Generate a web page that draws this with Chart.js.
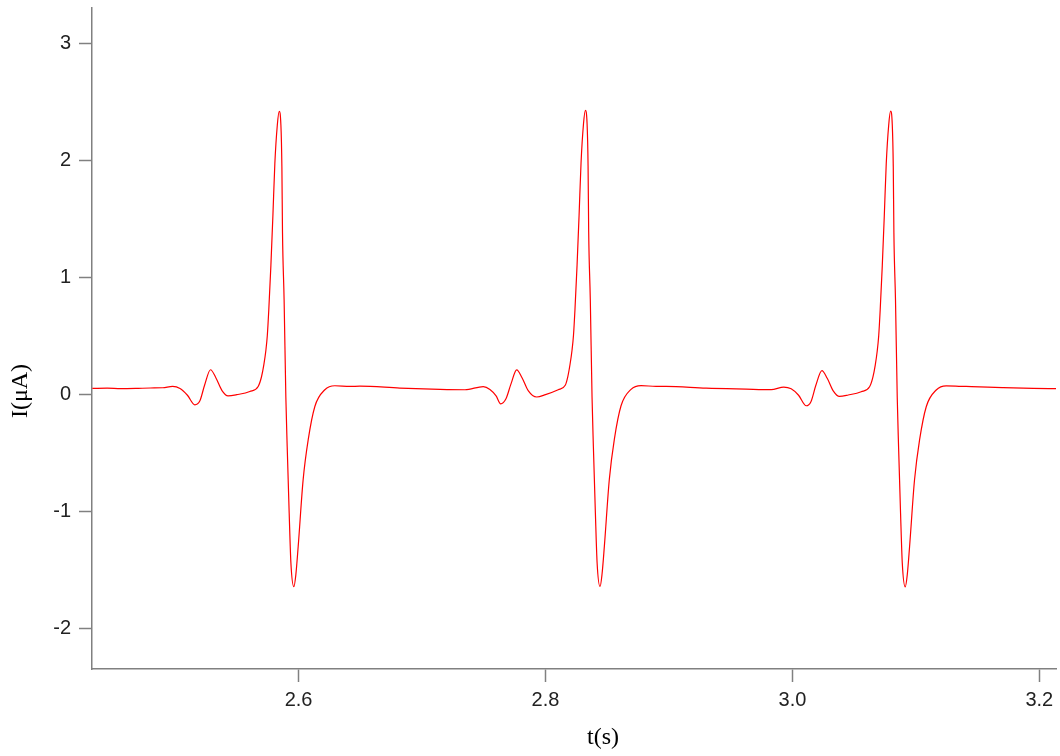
<!DOCTYPE html>
<html>
<head>
<meta charset="utf-8">
<script src="https://cdn.jsdelivr.net/npm/chart.js@4/dist/chart.umd.min.js"></script>
<style>
  body { margin: 0; background: #fff; }
  #wrap { width: 1060px; height: 756px; }
</style>
</head>
<body>
<div id="wrap"><canvas id="chart" width="1060" height="756"></canvas></div>
<script>
'use strict';

// time axis (s) and current (uA)
var tSec = [
  2.4330, 2.4450, 2.4560, 2.4680, 2.4800, 2.4900, 2.4980, 2.5040, 2.5100, 2.5160,
  2.5200, 2.5240, 2.5287, 2.5330, 2.5380, 2.5429, 2.5500, 2.5605, 2.5673, 2.5700,
  2.5719, 2.5735, 2.5747, 2.5759, 2.5776, 2.5792, 2.5808, 2.5828, 2.5843, 2.5857,
  2.5865, 2.5870, 2.5883, 2.5897, 2.5908, 2.5924, 2.5938, 2.5962, 2.5978, 2.5997,
  2.6037, 2.6078, 2.6132, 2.6213, 2.6294, 2.6416, 2.6497, 2.6821, 2.7145, 2.7348,
  2.7496, 2.7550, 2.7600, 2.7637, 2.7680, 2.7720, 2.7767, 2.7810, 2.7860, 2.7929,
  2.8000, 2.8103, 2.8160, 2.8181, 2.8199, 2.8215, 2.8227, 2.8239, 2.8256, 2.8272,
  2.8288, 2.8308, 2.8323, 2.8337, 2.8345, 2.8350, 2.8363, 2.8377, 2.8388, 2.8404,
  2.8418, 2.8442, 2.8458, 2.8477, 2.8517, 2.8558, 2.8612, 2.8693, 2.8774, 2.8896,
  2.8977, 2.9301, 2.9625, 2.9828,
  2.9930, 2.9990, 3.0050, 3.0112, 3.0150, 3.0190, 3.0239, 3.0282, 3.0332, 3.0381,
  3.0452, 3.0557, 3.0625, 3.0652, 3.0671, 3.0687, 3.0699, 3.0711, 3.0728, 3.0744,
  3.0760, 3.0780, 3.0795, 3.0809, 3.0817, 3.0822, 3.0835, 3.0849, 3.0860, 3.0876,
  3.0890, 3.0914, 3.0930, 3.0949, 3.0989, 3.1030, 3.1084, 3.1165, 3.1246, 3.1368,
  3.1450, 3.1700, 3.1950, 3.2135
];
var iMicroA = [
  0.048, 0.050, 0.046, 0.048, 0.052, 0.054, 0.066, 0.048, -0.010, -0.092,
  -0.060, 0.080, 0.208, 0.140, 0.030, -0.015, -0.005, 0.022, 0.065, 0.148,
  0.251, 0.370, 0.500, 0.720, 1.100, 1.520, 1.970, 2.300, 2.417, 2.300,
  1.944, 1.380, 0.807, -0.023, -0.451, -1.015, -1.443, -1.646, -1.545, -1.303,
  -0.733, -0.391, -0.106, 0.037, 0.071, 0.065, 0.068, 0.051, 0.040, 0.037,
  0.064, 0.040, -0.015, -0.083, -0.040, 0.085, 0.207, 0.140, 0.030, -0.025,
  -0.005, 0.037, 0.075, 0.150, 0.255, 0.375, 0.505, 0.725, 1.105, 1.525,
  1.975, 2.310, 2.425, 2.310, 1.950, 1.385, 0.810, -0.020, -0.450, -1.010,
  -1.440, -1.645, -1.540, -1.300, -0.730, -0.385, -0.100, 0.040, 0.072, 0.066,
  0.066, 0.050, 0.042, 0.038,
  0.060, 0.045, -0.010, -0.100, -0.065, 0.075, 0.200, 0.135, 0.025, -0.020,
  -0.008, 0.020, 0.062, 0.145, 0.248, 0.368, 0.498, 0.718, 1.098, 1.518,
  1.968, 2.300, 2.418, 2.300, 1.942, 1.378, 0.805, -0.025, -0.455, -1.018,
  -1.445, -1.648, -1.548, -1.305, -0.735, -0.392, -0.108, 0.035, 0.070, 0.066,
  0.064, 0.055, 0.048, 0.046
];

var xTicks = [2.6, 2.8, 3.0, 3.2];
var yTicks = [-2, -1, 0, 1, 2, 3];
var xRange = [2.4327, 3.2135];
var yRange = [-2.35, 3.30];
var xTitle = 't(s)';
var yTitle = 'I(\u03bcA)';

var points = [];
for (var i = 0; i < tSec.length; i++) {
  points.push({ x: tSec[i], y: iMicroA[i] });
}

var axisGrey = '#808080';
var tickFont = { family: '"Liberation Sans", Arial, sans-serif', size: 20 };

// axis titles sit off-centre in the original, so place them by hand
var axisTitles = {
  id: 'axisTitles',
  afterDraw: function (chart) {
    var ctx = chart.ctx;
    ctx.save();
    ctx.fillStyle = '#000';
    ctx.font = '24px "Liberation Serif", "Times New Roman", serif';
    ctx.textAlign = 'center';
    ctx.textBaseline = 'middle';
    ctx.fillText(xTitle, 603, 738);
    ctx.translate(21, 391);
    ctx.rotate(-Math.PI / 2);
    ctx.fillText(yTitle, 0, 0);
    ctx.restore();
  }
};

new Chart(document.getElementById('chart').getContext('2d'), {
  type: 'line',
  data: {
    datasets: [{
      data: points,
      borderColor: '#ff0000',
      borderWidth: 1.2,
      pointRadius: 0,
      fill: false,
      cubicInterpolationMode: 'monotone'
    }]
  },
  options: {
    responsive: false,
    animation: false,
    devicePixelRatio: 1,
    layout: { padding: { top: 8, right: 4, left: 0, bottom: 0 } },
    plugins: { legend: { display: false }, tooltip: { enabled: false } },
    scales: {
      x: {
        type: 'linear',
        min: xRange[0],
        max: xRange[1],
        afterBuildTicks: function (scale) {
          scale.ticks = xTicks.map(function (v) { return { value: v }; });
        },
        afterFit: function (scale) {
          scale.height = 87;
          scale.paddingLeft = 0;
          scale.paddingRight = 0;
        },
        grid: { drawOnChartArea: false, drawTicks: true, tickLength: 13, tickColor: axisGrey, tickWidth: 1.5 },
        border: { display: true, color: axisGrey, width: 1.5 },
        ticks: {
          color: '#222',
          font: tickFont,
          padding: 6,
          maxRotation: 0,
          callback: function (v) { return Number(v).toFixed(1); }
        }
      },
      y: {
        type: 'linear',
        min: yRange[0],
        max: yRange[1],
        afterBuildTicks: function (scale) {
          scale.ticks = yTicks.map(function (v) { return { value: v }; });
        },
        afterFit: function (scale) {
          scale.width = 92;
          scale.paddingTop = 0;
          scale.paddingBottom = 0;
        },
        grid: { drawOnChartArea: false, drawTicks: true, tickLength: 13, tickColor: axisGrey, tickWidth: 1.5 },
        border: { display: true, color: axisGrey, width: 1.5 },
        ticks: {
          color: '#222',
          font: tickFont,
          padding: 8,
          callback: function (v) { return String(v); }
        }
      }
    }
  },
  plugins: [axisTitles]
});
</script>
</body>
</html>
